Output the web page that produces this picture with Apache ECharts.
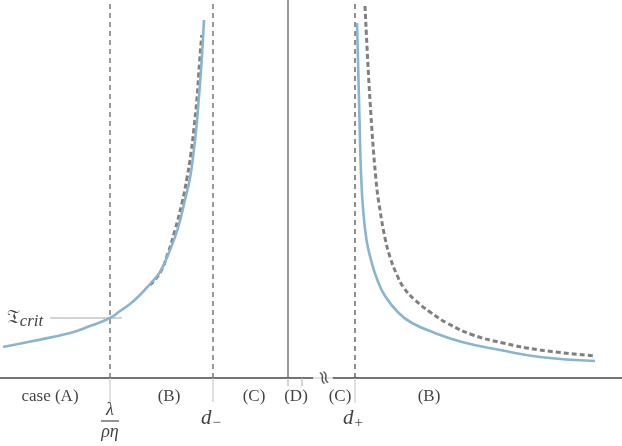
<!DOCTYPE html>
<html><head><meta charset="utf-8">
<script src="https://cdn.jsdelivr.net/npm/echarts@6/dist/echarts.min.js"></script>
<style>html,body{margin:0;padding:0;background:#fff}#c{width:622px;height:446px}</style>
</head><body><div id="c"></div>
<script>
// Curves: [x, height above baseline]
const leftSolid = [[3,31],[33,37],[70,45],[90,52],[110,60],[120,67],[130,74],[140,83],[150,94],[160,106],[170,128],[178,150],[185,178],[190,200],[193.5,225],[196.5,252],[199,282],[201.5,315],[204,358]];
const leftDashed = [[150,93],[160,105],[168,125],[175,148],[182,175],[187,200],[191,225],[194,250],[197,280],[199.5,315],[201.7,343]];
const rightSolid = [[357,355],[358,318],[359.5,258],[361,205],[363,170],[366.5,138],[371,118],[377,99],[385,82],[398.7,65],[412,55],[435,45],[462,36],[500,28],[540,21],[595,17]];
const rightDashed = [[365,372],[370,278],[376,198],[380,168],[385,140],[390,121],[397,103],[404,90],[415,78],[430,66],[447,55],[473,43],[503,35],[540,28],[595,22]];
// Special x positions on the axis
const xLambda = 110, xDMinus = 213, xOrigin = 288, xDBoundary = 302, xDPlus = 355, xBreak = 323;
const xMax = 622, yTop = 378, yBottom = -68;
const critValue = 60, critFrom = 50, critTo = 122;
// Region labels
const regionNames = ['case (A)', '(B)', '(C)', '(D)', '(C)', '(B)'];
const regionCenters = [50, 169, 254, 296, 340, 429];

const chart = echarts.init(document.getElementById('c'));
const serif = 'Liberation Serif';
const lineS = (data, color, width, type, z) => ({type:'line', data, symbol:'none', silent:true, z:z||2, lineStyle:{color, width, type:type||'solid'}});
const smoothS = (data, color, width, type, z) => Object.assign(lineS(data,color,width,type,z), {smooth:0.45});
const textS = (items, z) => ({type:'scatter', symbolSize:0, silent:true, z:z||5, data: items.map(it => ({value:[it.x,it.y], label:Object.assign({show:true, position:'inside', color:'#111', fontFamily:serif, fontSize:17}, it.label)}))});

const series = [
  lineS([[0,0],[xMax,0]], '#444', 1.3),
  lineS([[xOrigin,0],[xOrigin,yTop]], '#333', 1),
  lineS([[xOrigin,0],[xOrigin,-8]], '#bbb', 1.2),
  lineS([[xDBoundary,0],[xDBoundary,-8]], '#bbb', 1.2),
  lineS([[xLambda,0],[xLambda,yTop]], '#666', 1.3, [5,4]),
  lineS([[xDMinus,0],[xDMinus,yTop]], '#666', 1.3, [5,4]),
  lineS([[xDPlus,0],[xDPlus,yTop]], '#333', 1.1, [5,4]),
  lineS([[xLambda,0],[xLambda,-25]], '#ccc', 1.2),
  lineS([[xDMinus,0],[xDMinus,-24]], '#ccc', 1.2),
  lineS([[xDPlus,0],[xDPlus,-25]], '#ccc', 1.2),
  lineS([[critFrom,critValue],[critTo,critValue]], '#c4c4c4', 1.3, 'solid', 1),
  smoothS(leftDashed, '#808080', 3, [5,3], 3),
  smoothS(rightDashed, '#808080', 3, [5,3], 3),
  smoothS(leftSolid, '#8ab4d0', 2.6, 'solid', 4),
  smoothS(rightSolid, '#8ab4d0', 2.6, 'solid', 4),
  lineS([[xLambda-9,-43],[xLambda+9,-43]], '#111', 0.9),
  textS(regionNames.map((n,i)=>({x:regionCenters[i], y:-19, label:{formatter:n}}))),
  textS([
    {x:xLambda, y:-32, label:{formatter:'λ', fontStyle:'italic', fontSize:18}},
    {x:xLambda, y:-54, label:{formatter:'ρη', fontStyle:'italic', fontSize:18}},
    {x:xDMinus-2, y:-40, label:{formatter:'{d|d}{s|−}', rich:{d:{fontFamily:serif, fontStyle:'italic', fontSize:21, color:'#111'}, s:{fontFamily:serif, fontSize:15, color:'#111', padding:[10,0,0,1]}}}},
    {x:xDPlus-2, y:-40, label:{formatter:'{d|d}{s|+}', rich:{d:{fontFamily:serif, fontStyle:'italic', fontSize:21, color:'#111'}, s:{fontFamily:serif, fontSize:15, color:'#111', padding:[10,0,0,1]}}}},
    {x:25, y:critValue, label:{formatter:'{t|𝔗}{s|crit}', rich:{t:{fontFamily:'DejaVu Serif', fontSize:20, color:'#111'}, s:{fontFamily:serif, fontStyle:'italic', fontSize:17, color:'#111', padding:[7,0,0,0]}}}},
    {x:xBreak, y:0, label:{formatter:'≈', fontFamily:'DejaVu Sans', fontSize:19, rotate:-75, color:'#333', backgroundColor:'#fff', padding:[0,0,0,0]}}
  ])
];

chart.setOption({
  animation:false,
  grid:{left:0,right:0,top:0,bottom:0},
  xAxis:{type:'value', min:0, max:xMax, show:false},
  yAxis:{type:'value', min:yBottom, max:yTop, show:false},
  series
});
</script></body></html>
